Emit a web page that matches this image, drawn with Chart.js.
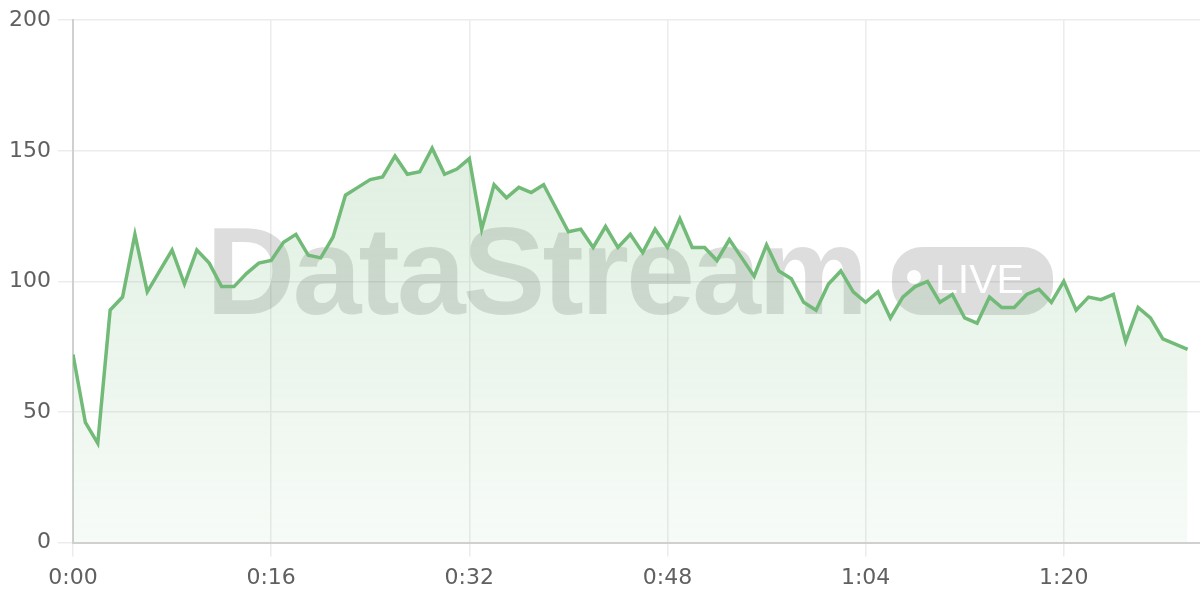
<!DOCTYPE html>
<html>
<head>
<meta charset="utf-8">
<script src="https://cdn.jsdelivr.net/npm/chart.js@4"></script>
<style>
  html, body { margin: 0; padding: 0; background: #fff; }
  #wrap { width: 1200px; height: 600px; position: relative; }
</style>
</head>
<body>
<div id="wrap"><canvas id="streamChart"></canvas></div>
<script>
// ==================== DATA ====================
// one sample per second, 0:00 .. 1:30
const values = [
    72, 46, 38, 89, 94, 118, 96, 104, 112, 99,
    112, 107, 98, 98, 103, 107, 108, 115, 118, 110,
    109, 117, 133, 136, 139, 140, 148, 141, 142, 151,
    141, 143, 147, 120, 137, 132, 136, 134, 137, 128,
    119, 120, 113, 121, 113, 118, 111, 120, 113, 124,
    113, 113, 108, 116, 109, 102, 114, 104, 101, 92,
    89, 99, 104, 96, 92, 96, 86, 94, 98, 100,
    92, 95, 86, 84, 94, 90, 90, 95, 97, 92,
    100, 89, 94, 93, 95, 77, 90, 86, 78, 76, 74
];
const seconds = values.map((v, i) => i);
const xTickSeconds = [0, 16, 32, 48, 64, 80];
const yTicks = [0, 50, 100, 150, 200];

const LINE_COLOR = '#72ba78';
const FONT = "'DejaVu Sans', sans-serif";

function fmtTime(s) {
    const m = Math.floor(s / 60);
    const r = s % 60;
    return m + ':' + (r < 10 ? '0' + r : r);
}

// ==================== WATERMARK ====================
const watermark = {
    id: 'watermark',
    beforeDatasetsDraw(chart) {
        const ctx = chart.ctx;
        ctx.save();
        ctx.fillStyle = 'rgba(0,0,0,0.135)';
        ctx.font = "bold 124px 'Liberation Sans', sans-serif";
        ctx.letterSpacing = '-3px';
        ctx.textBaseline = 'alphabetic';
        ctx.fillText('DataStream', 206, 314);
        ctx.letterSpacing = '0px';
        ctx.beginPath();
        ctx.roundRect(892, 247, 161, 68, 30);
        ctx.fill();
        ctx.fillStyle = 'rgba(255,255,255,0.95)';
        ctx.beginPath();
        ctx.arc(914, 277, 7, 0, Math.PI * 2);
        ctx.fill();
        ctx.font = "41px 'Liberation Sans', sans-serif";
        ctx.fillText('LIVE', 935, 293);
        ctx.restore();
    }
};

// ==================== CHART ====================
function makeGradient(context) {
    const area = context.chart.chartArea;
    if (!area) return 'rgba(114,186,120,0.15)';
    const g = context.chart.ctx.createLinearGradient(0, area.top, 0, area.bottom);
    g.addColorStop(0, 'rgba(114,186,120,0.28)');
    g.addColorStop(1, 'rgba(114,186,120,0.06)');
    return g;
}

new Chart(document.getElementById('streamChart'), {
    type: 'line',
    data: {
        datasets: [{
            data: seconds.map((s, i) => ({ x: s, y: values[i] })),
            borderColor: LINE_COLOR,
            borderWidth: 3.5,
            backgroundColor: makeGradient,
            fill: 'origin',
            pointRadius: 0,
            tension: 0
        }]
    },
    options: {
        responsive: true,
        maintainAspectRatio: false,
        animation: false,
        layout: { padding: { left: 2, top: 9, right: 0, bottom: 1 } },
        plugins: { legend: { display: false }, tooltip: { enabled: false } },
        scales: {
            x: {
                type: 'linear',
                min: 0,
                max: 91,
                afterBuildTicks: (axis) => { axis.ticks = xTickSeconds.map(v => ({ value: v })); },
                ticks: { callback: (v) => fmtTime(v), color: '#606060', font: { family: FONT, size: 22 }, padding: 8, maxRotation: 0 },
                grid: { color: '#ececec', lineWidth: 1.5, tickLength: 14 },
                border: { color: '#d0d0d0', width: 2 }
            },
            y: {
                min: 0,
                max: 200,
                afterBuildTicks: (axis) => { axis.ticks = yTicks.map(v => ({ value: v })); },
                ticks: { color: '#606060', font: { family: FONT, size: 22 }, padding: 7 },
                grid: { color: '#ececec', lineWidth: 1.5, tickLength: 15 },
                border: { color: '#d0d0d0', width: 2 }
            }
        }
    },
    plugins: [watermark]
});
</script>
</body>
</html>
